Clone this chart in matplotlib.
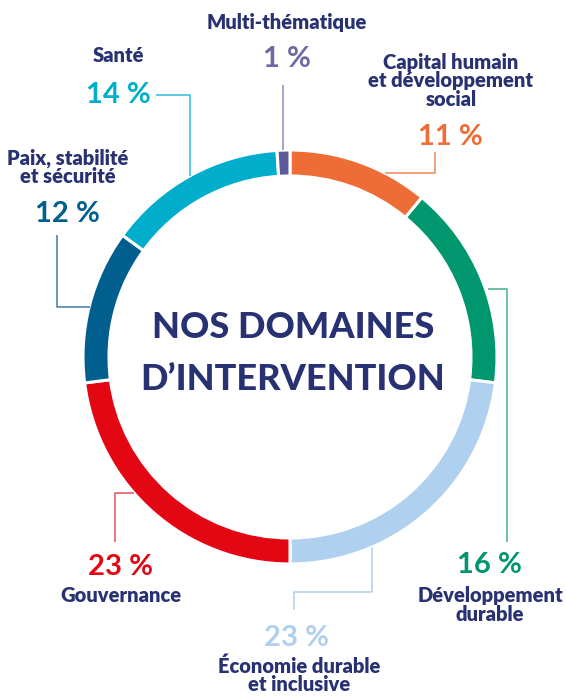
import matplotlib.pyplot as plt

# clockwise from the top
domains = ["Capital humain\net développement\nsocial", "Développement\ndurable",
           "Économie durable\net inclusive", "Gouvernance", "Paix, stabilité\net sécurité",
           "Santé", "Multi-thématique"]
shares = [11, 16, 23, 23, 12, 14, 1]
colors = ["#ee6c35", "#00976f", "#afd0ef", "#e30613", "#005f8e", "#00adca", "#5f5b9b"]
pct_colors = ["#ee6c35", "#00976f", "#afd0ef", "#e30613", "#005f8e", "#00adca", "#6d69a2"]
line_colors = ["#ef8656", "#45b08d", "#afd0ef", "#e8505a", "#3e7ba5", "#2fbcd4", "#8d8ab9"]

NAVY = "#283272"
FONT = "Lato"

W, H = 566, 697
CX, CY, R, RING = 290, 357, 207, 26

# label layout: percent centre, name centre, leader polyline (pixels from top-left)
layout = [
    ((450, 137), (451, 81), [(385, 173), (435, 173), (435, 152)]),
    ((489, 565), (490, 605), [(488, 289), (507, 289), (507, 542)]),
    ((297, 638), (299, 675), [(372, 547), (372, 592), (294, 592), (294, 610)]),
    ((121, 567), (121, 595), [(134, 493), (115, 493), (115, 542)]),
    ((67, 214), (68, 167), [(90, 307), (57, 307), (57, 235)]),
    ((118, 95), (118, 55), [(190, 176), (190, 95), (156, 95)]),
    ((287, 59), (287, 23), [(283, 150), (283, 85)]),
]

fig = plt.figure(figsize=(W / 100, H / 100), dpi=100)
ax = fig.add_axes([0, 0, 1, 1])

# y axis is inverted below, so startangle=-90 is the top and counterclock runs clockwise on screen
ax.pie(shares, colors=colors, startangle=-90, counterclock=True, radius=R, center=(CX, CY),
       wedgeprops=dict(width=RING, edgecolor="white", linewidth=2.2))

for name, val, pc, lc, (pxy, nxy, pts) in zip(domains, shares, pct_colors, line_colors, layout):
    xs, ys = zip(*pts)
    ax.plot(xs, ys, color=lc, lw=1.1, solid_capstyle="butt", zorder=1)
    ax.text(pxy[0], pxy[1], f"{val} %", color=pc, fontsize=21, fontweight="bold",
            family=FONT, ha="center", va="center")
    ax.text(nxy[0], nxy[1], name, color=NAVY, fontsize=14.5, fontweight="heavy",
            family=FONT, ha="center", va="center", linespacing=0.95)

ax.text(CX + 3, 327, "NOS DOMAINES", color=NAVY, fontsize=26, fontweight="black",
        family=FONT, ha="center", va="center")
ax.text(CX + 3, 379, "D’INTERVENTION", color=NAVY, fontsize=26, fontweight="black",
        family=FONT, ha="center", va="center")

ax.set_xlim(0, W)
ax.set_ylim(H, 0)
ax.set_aspect("equal")
ax.axis("off")

fig.savefig("out.png", dpi=100, facecolor="white")
